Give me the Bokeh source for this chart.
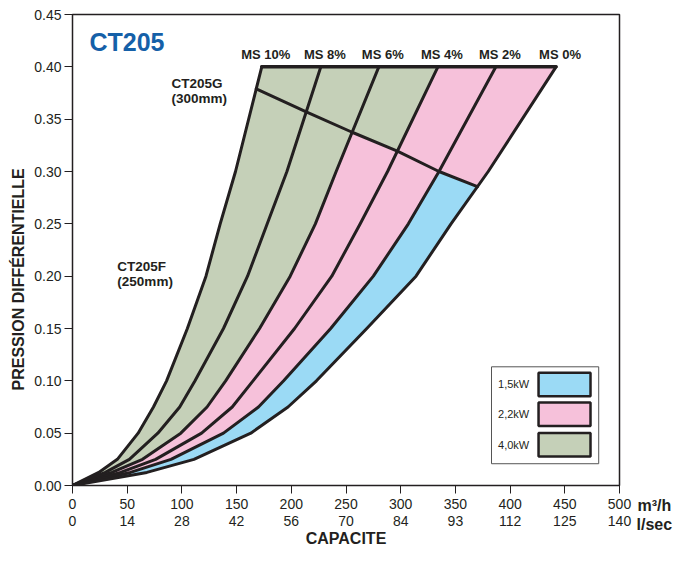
import numpy as np
from bokeh.plotting import figure
from bokeh.models import Range1d, LinearAxis, FixedTicker, NumeralTickFormatter, Label, Title
from bokeh.embed import file_html
from bokeh.resources import INLINE
from bokeh.core.properties import value

# ---------------- data ----------------
pressure = [0.0, 0.0125, 0.025, 0.05, 0.075, 0.10, 0.15, 0.20, 0.25, 0.30, 0.40]
ms10 = [0, 24, 41, 60, 74, 86, 105, 122, 135, 149, 173]
ms8 = [0, 30, 52, 78, 98, 112, 138, 160, 178, 196, 227]
ms6 = [0, 36, 64, 99, 123, 140, 171, 199, 222, 241, 280]
ms4 = [0, 44, 76, 118, 146, 165, 203, 237, 263, 288, 334]
ms2 = [0, 53, 90, 138, 170, 193, 236, 275, 307, 335, 387]
ms0 = [0, 68, 111, 163, 197, 223, 269, 314, 346, 380, 442]
curve_names = ["MS 10%", "MS 8%", "MS 6%", "MS 4%", "MS 2%", "MS 0%"]
# pressure at which the CT205G (300mm) limit line crosses each curve
crossing_pressure = [0.379, 0.357, 0.3375, 0.3195, 0.300, 0.2855]

GREEN = "#c5d0b8"
PINK = "#f6c1da"
BLUE = "#9bdaf5"
lower_colors = [GREEN, GREEN, PINK, PINK, BLUE]
upper_colors = [GREEN, GREEN, GREEN, PINK, PINK]

x_ticks = [0, 50, 100, 150, 200, 250, 300, 350, 400, 450, 500]
lsec_labels = ["0", "14", "28", "42", "56", "70", "84", "93", "112", "125", "140"]
y_ticks = [0.0, 0.05, 0.10, 0.15, 0.20, 0.25, 0.30, 0.35, 0.40, 0.45]
unit_labels = ["m³/h", "l/sec"]

legend_labels = ["1,5kW", "2,2kW", "4,0kW"]
legend_colors = [BLUE, PINK, GREEN]

# ---------------- figure ----------------
INK = "#231f20"
FONT = "Liberation Sans"

p = figure(width=674, height=549, x_range=Range1d(0, 500), y_range=Range1d(0, 0.45),
           output_backend="svg", toolbar_location=None,
           min_border_left=72, min_border_right=55, min_border_top=14, min_border_bottom=63)
p.xgrid.visible = False
p.ygrid.visible = False
p.outline_line_color = INK
p.outline_line_width = 1.5
p.outline_line_alpha = 1.0

curves = [ms10, ms8, ms6, ms4, ms2, ms0]


def split(cx, pc):
    xc = float(np.interp(pc, pressure, cx))
    low = [(x, y) for x, y in zip(cx, pressure) if y < pc] + [(xc, pc)]
    up = [(xc, pc)] + [(x, y) for x, y in zip(cx, pressure) if y > pc]
    return low, up


parts = [split(c, pc) for c, pc in zip(curves, crossing_pressure)]

for i in range(5):
    la, ua = parts[i]
    lb, ub = parts[i + 1]
    lowpoly = la + lb[::-1]
    uppoly = ua + ub[::-1]
    p.patch([q[0] for q in lowpoly], [q[1] for q in lowpoly], fill_color=lower_colors[i], line_color=None)
    p.patch([q[0] for q in uppoly], [q[1] for q in uppoly], fill_color=upper_colors[i], line_color=None)

LW = 3
for c in curves:
    p.line(c, pressure, line_color=INK, line_width=LW, line_join="round", line_cap="round")

# top line at the max pressure
p.line([ms10[-1], ms0[-1]], [pressure[-1], pressure[-1]], line_color=INK, line_width=LW + 0.5,
       line_cap="round")

# CT205G limit line
cx = [parts[k][0][-1][0] for k in range(6)]
cy = [parts[k][0][-1][1] for k in range(6)]
p.line(cx, cy, line_color=INK, line_width=LW, line_join="round", line_cap="round")

# MS labels
p.text([c[-1] for c in curves], [pressure[-1]] * 6, text=curve_names, text_align="center",
       text_baseline="bottom", y_offset=-5, x_offset=4,
       text_font=value(FONT), text_font_style="bold", text_font_size="13px", text_color=INK)

# annotations
p.add_layout(Label(x=15.5, y=0.4235, text="CT205", text_font=FONT, text_font_style="bold",
                   text_font_size="25px", text_color="#1560a8", text_baseline="middle"))
p.add_layout(Label(x=90.5, y=0.377, text="CT205G\n(300mm)", text_font=FONT, text_font_style="bold",
                   text_font_size="13.5px", text_color=INK, text_baseline="middle",
                   text_line_height=1.05))
p.add_layout(Label(x=41, y=0.202, text="CT205F\n(250mm)", text_font=FONT, text_font_style="bold",
                   text_font_size="13.5px", text_color=INK, text_baseline="middle",
                   text_line_height=1.05))

# legend (drawn by hand like the reference)
p.quad(left=[383], right=[481], top=[0.1134], bottom=[0.0208], fill_color="white",
       line_color="#555555", line_width=1)
sw_top = [0.1078, 0.0794, 0.0501]
sw_h = 0.0225
p.quad(left=[426] * 3, right=[473.5] * 3, top=sw_top, bottom=[t - sw_h for t in sw_top],
       fill_color=legend_colors, line_color=INK, line_width=2.5)
p.text([389] * 3, [t - sw_h / 2 for t in sw_top], text=legend_labels, text_baseline="middle",
       text_font=value(FONT), text_font_size="11px", text_color=INK)

# ---------------- axes ----------------
ax = p.xaxis[0]
ax.ticker = FixedTicker(ticks=x_ticks)
ax.major_tick_out = 8
ax.major_tick_in = 0
ax.minor_tick_line_color = None
ax.major_label_standoff = 5
ax.axis_line_color = INK
ax.major_tick_line_color = INK
ax.major_label_text_font = FONT
ax.major_label_text_font_size = "14px"
ax.major_label_text_color = INK

ax2 = LinearAxis(ticker=FixedTicker(ticks=x_ticks),
                 major_label_overrides={t: l for t, l in zip(x_ticks, lsec_labels)},
                 axis_line_color=None, major_tick_line_color=None, minor_tick_line_color=None,
                 major_tick_out=0, major_tick_in=0, major_label_standoff=4,
                 major_label_text_font=FONT, major_label_text_font_size="14px",
                 major_label_text_color=INK,
                 axis_label="CAPACITE", axis_label_text_font=FONT, axis_label_text_font_style="bold",
                 axis_label_text_font_size="16px", axis_label_text_color=INK, axis_label_standoff=1)
p.add_layout(ax2, "below")

ay = p.yaxis[0]
ay.ticker = FixedTicker(ticks=y_ticks)
ay.formatter = NumeralTickFormatter(format="0.00")
ay.major_tick_out = 8
ay.major_tick_in = 0
ay.minor_tick_line_color = None
ay.major_label_standoff = 3
ay.axis_line_color = INK
ay.major_tick_line_color = INK
ay.major_label_text_font = FONT
ay.major_label_text_font_size = "14px"
ay.major_label_text_color = INK

# y title (placed lower than the frame centre, as in the reference)
p.add_layout(Title(text="PRESSION DIFFÉRENTIELLE", align="left", offset=95, standoff=10,
                   text_font=FONT, text_font_style="bold", text_font_size="16px",
                   text_color=INK), "left")

# unit labels at the right end of the two tick rows (zero-height titles in the bottom panel)
unit_titles = [Title(text=u, align="left", vertical_align="bottom", offset=off, standoff=so,
                     text_font=FONT, text_font_style="bold", text_font_size="16px",
                     text_color=INK)
               for u, off, so in zip(unit_labels, [565, 564], [-56, -94])]
p.below = unit_titles + list(p.below)

open("out.html", "w").write(file_html(p, INLINE))
